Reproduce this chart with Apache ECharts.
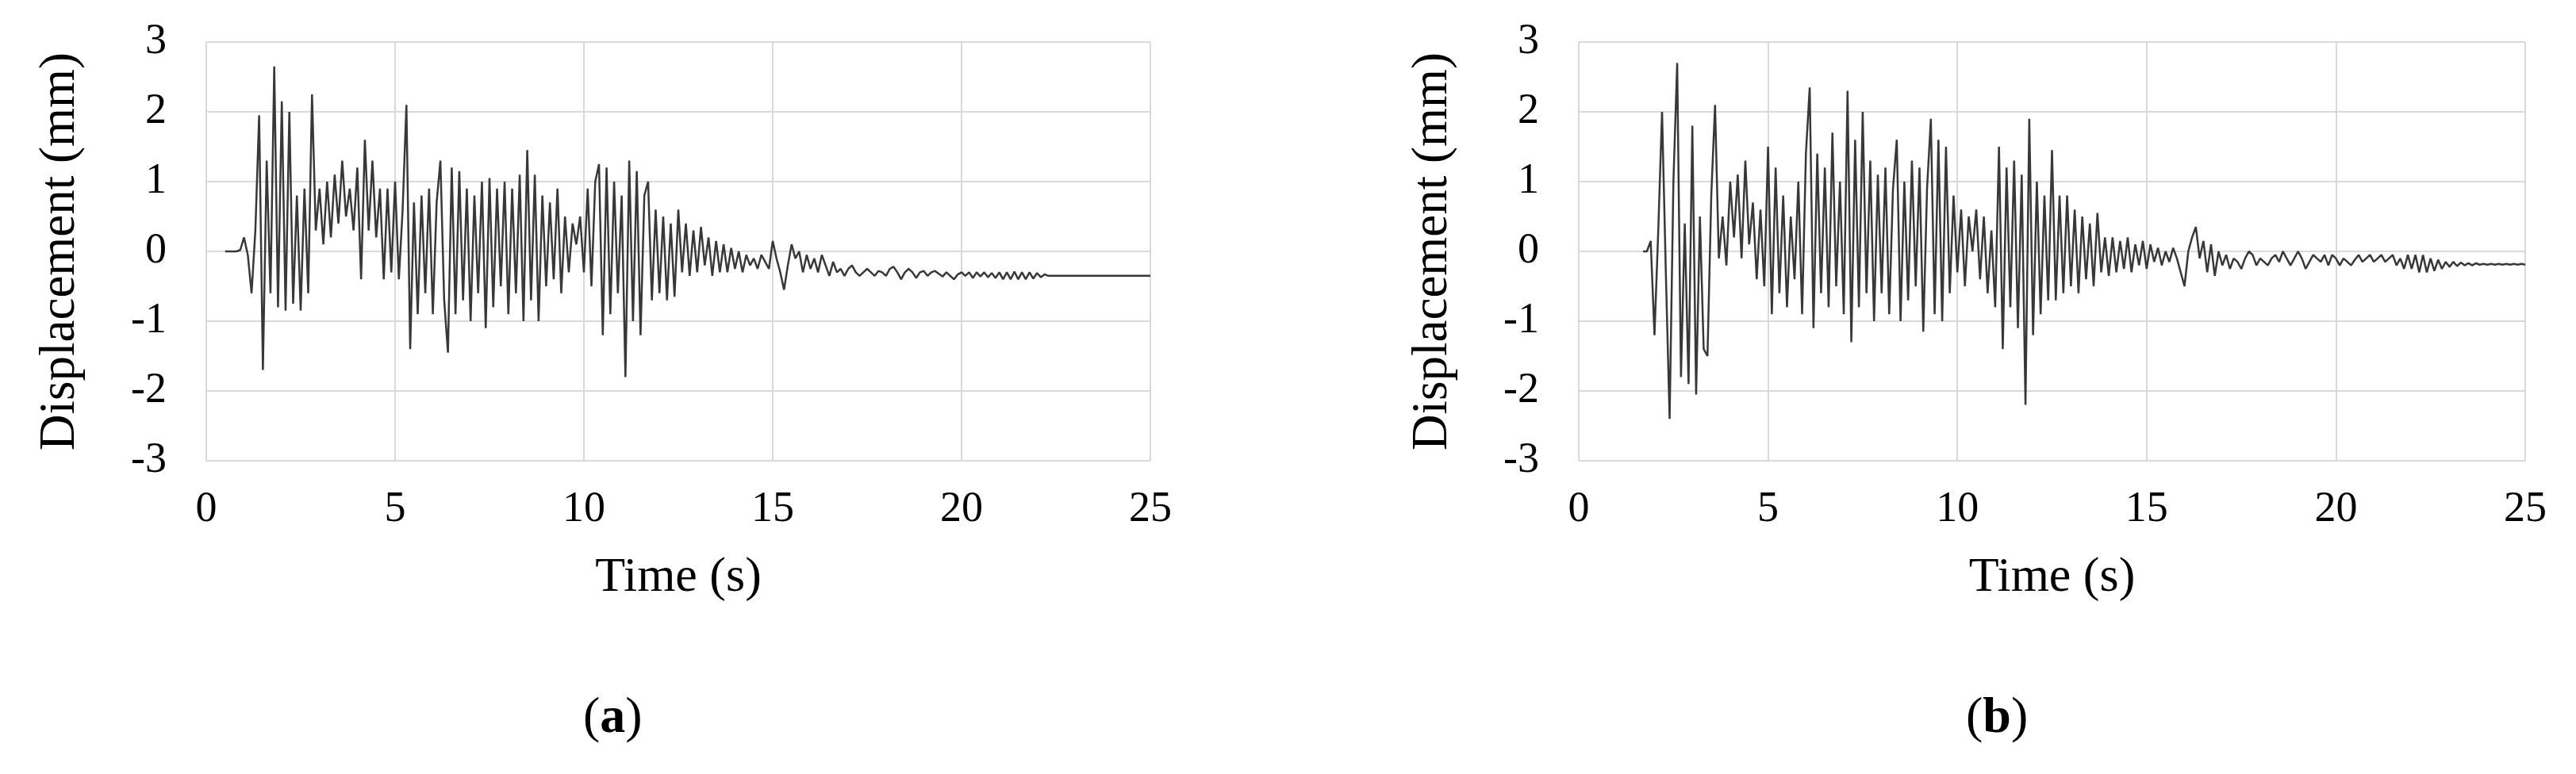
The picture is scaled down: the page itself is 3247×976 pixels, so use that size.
<!DOCTYPE html>
<html>
<head>
<meta charset="utf-8">
<script src="https://cdn.jsdelivr.net/npm/echarts@6/dist/echarts.min.js"></script>
<style>
html,body{margin:0;padding:0;background:#fff;}
#chart{width:3247px;height:976px;}
</style>
</head>
<body>
<div id="chart"></div>
<script>
// ---- data ----
var xTicks = [0, 5, 10, 15, 20, 25];
var yTicks = [-3, -2, -1, 0, 1, 2, 3];
var xTitle = 'Time (s)';
var yTitle = 'Displacement (mm)';
var captions = ['a', 'b'];
var sampleStep = 0.1; // s

// (a) displacement history, samples every 0.1 s starting at 0.5 s
var startA = 0.5;
var dispA = [
  0, 0, 0, 0, 0.02,
  0.2, -0.05, -0.6, 0.3, 1.95, -1.7, 1.3, -0.6, 2.65, -0.8,
  2.15, -0.85, 2.0, -0.75, 0.8, -0.85, 0.9, -0.6, 2.25, 0.3,
  0.9, 0.1, 1.0, 0.2, 1.1, 0.4, 1.3, 0.5, 0.9, 0.3,
  1.2, -0.4, 1.6, 0.3, 1.3, 0.2, 0.9, -0.4, 0.9, -0.3,
  1.0, -0.4, 0.6, 2.1, -1.4, 0.7, -0.9, 0.8, -0.6, 0.9,
  -0.9, 0.7, 1.3, -0.7, -1.45, 1.2, -0.9, 1.15, -0.7, 0.9,
  -1.0, 0.8, -0.6, 1.0, -1.1, 1.05, -0.8, 0.9, -0.5, 1.0,
  -0.9, 0.9, -0.6, 1.1, -1.0, 1.45, -0.7, 1.1, -1.0, 0.8,
  -0.5, 0.7, -0.4, 0.9, -0.6, 0.5, -0.3, 0.4, 0.1, 0.5,
  -0.3, 0.9, -0.5, 1.0, 1.25, -1.2, 1.2, -0.9, 1.0, -0.6,
  0.8, -1.8, 1.3, -1.0, 1.15, -1.2, 0.8, 1.0, -0.7, 0.6,
  -0.6, 0.5, -0.7, 0.4, -0.65, 0.6, -0.3, 0.4, -0.35, 0.3,
  -0.3, 0.35, -0.2, 0.2, -0.35, 0.15, -0.3, 0.1, -0.3, 0.05,
  -0.25, 0.0, -0.3, -0.05, -0.2, -0.1, -0.25, -0.05, -0.15, -0.25,
  0.15, -0.1, -0.3, -0.55, -0.2, 0.1, -0.1, 0.0, -0.3, -0.05,
  -0.25, -0.1, -0.3, -0.05, -0.2, -0.35, -0.15, -0.3, -0.25, -0.35,
  -0.25, -0.2, -0.3, -0.35, -0.3, -0.25, -0.3, -0.35, -0.28, -0.3,
  -0.35, -0.25, -0.22, -0.3, -0.4, -0.3, -0.25, -0.3, -0.38, -0.3,
  -0.28, -0.35, -0.3, -0.28, -0.32, -0.36, -0.3, -0.35, -0.4, -0.33,
  -0.3, -0.35, -0.3, -0.38, -0.3, -0.36, -0.3, -0.37, -0.31, -0.38,
  -0.3, -0.4, -0.3, -0.4, -0.29, -0.4, -0.3, -0.4, -0.3, -0.39,
  -0.31, -0.37, -0.33, -0.35, -0.35, -0.35, -0.35, -0.35, -0.35, -0.35,
  -0.35, -0.35, -0.35, -0.35, -0.35, -0.35, -0.35, -0.35, -0.35, -0.35,
  -0.35, -0.35, -0.35, -0.35, -0.35, -0.35, -0.35, -0.35, -0.35, -0.35,
  -0.35
];

// (b) displacement history, samples every 0.1 s starting at 1.7 s
var startB = 1.7;
var dispB = [
  0, 0.0, 0.15,
  -1.2, 0.3, 2.0, -0.3, -2.4, 1.0, 2.7, -1.8, 0.4, -1.9,
  1.8, -2.05, 0.5, -1.4, -1.5, 0.8, 2.1, -0.1, 0.5, -0.2,
  1.0, 0.2, 1.1, -0.1, 1.3, 0.1, 0.7, -0.4, 0.6, -0.5,
  1.5, -0.9, 1.2, -0.6, 0.8, -0.8, 0.5, -0.4, 1.0, -0.9,
  1.4, 2.35, -1.1, 1.4, -0.6, 1.2, -0.8, 1.7, -0.5, 1.0,
  -0.9, 2.3, -1.3, 1.6, -0.8, 2.0, -0.6, 1.3, -1.0, 1.1,
  -0.6, 1.2, -0.9, 0.9, 1.6, -1.0, 1.0, -0.7, 1.3, -0.5,
  1.2, -1.15, 0.9, 1.9, -0.9, 1.6, -1.0, 1.5, -0.6, 0.8,
  -0.3, 0.6, -0.5, 0.5, 0.0, 0.6, -0.4, 0.5, -0.6, 0.3,
  -0.8, 1.5, -1.4, 1.2, -0.8, 1.3, -1.1, 1.1, -2.2, 1.9,
  -1.2, 1.0, -0.9, 0.8, -0.7, 1.45, -0.7, 0.8, -0.6, 0.8,
  -0.5, 0.6, -0.6, 0.5, -0.4, 0.4, -0.5, 0.55, -0.3, 0.2,
  -0.35, 0.2, -0.3, 0.15, -0.25, 0.2, -0.3, 0.1, -0.2, 0.15,
  -0.25, 0.1, -0.15, 0.05, -0.2, 0.0, -0.15, 0.05, -0.1, -0.3,
  -0.5, 0.0, 0.2, 0.35, -0.1, 0.15, -0.3, 0.1, -0.35, 0.0,
  -0.2, -0.05, -0.25, -0.1, -0.15, -0.25, -0.1, 0.0, -0.05, -0.2,
  -0.1, -0.15, -0.2, -0.1, -0.05, -0.15, 0.0, -0.1, -0.2, -0.1,
  0.0, -0.1, -0.25, -0.15, -0.05, -0.1, -0.15, -0.05, -0.2, -0.05,
  -0.1, -0.2, -0.1, -0.15, -0.2, -0.12, -0.05, -0.15, -0.1, -0.05,
  -0.15, -0.1, -0.05, -0.15, -0.1, -0.05, -0.2, -0.1, -0.25, -0.05,
  -0.25, -0.05, -0.3, -0.05, -0.3, -0.1, -0.28, -0.12, -0.25, -0.15,
  -0.22, -0.15, -0.21, -0.16, -0.2, -0.17, -0.2, -0.17, -0.19, -0.18,
  -0.19, -0.18, -0.19, -0.18, -0.19, -0.18, -0.19, -0.18, -0.19, -0.18,
  -0.19
];

// ---- build ----
function toPairs(start, vals) {
  var out = [];
  for (var i = 0; i < vals.length; i++) {
    out.push([+(start + i * sampleStep).toFixed(2), vals[i]]);
  }
  return out;
}

var FONT = '"Liberation Serif", "Times New Roman", serif';
var gridColor = '#d9d9d9';
var lineColor = '#383838';

function xAxis(gi) {
  return {
    type: 'value', gridIndex: gi,
    min: xTicks[0], max: xTicks[xTicks.length - 1], interval: xTicks[1] - xTicks[0],
    name: xTitle, nameLocation: 'middle', nameGap: 117,
    nameTextStyle: { fontFamily: FONT, fontSize: 62, color: '#000' },
    axisLine: { show: false }, axisTick: { show: false },
    axisLabel: { fontFamily: FONT, fontSize: 54, color: '#000', margin: 35 },
    splitLine: { show: true, lineStyle: { color: gridColor, width: 2 } }
  };
}
function yAxis(gi) {
  return {
    type: 'value', gridIndex: gi,
    min: yTicks[0], max: yTicks[yTicks.length - 1], interval: yTicks[1] - yTicks[0],
    name: yTitle, nameLocation: 'middle', nameGap: 152, nameRotate: 90,
    nameTextStyle: { fontFamily: FONT, fontSize: 63, color: '#000' },
    axisLine: { show: false }, axisTick: { show: false },
    axisLabel: { fontFamily: FONT, fontSize: 54, color: '#000', margin: 50 },
    splitLine: { show: true, lineStyle: { color: gridColor, width: 2 } }
  };
}
function series(gi, data) {
  return {
    type: 'line', xAxisIndex: gi, yAxisIndex: gi, data: data,
    showSymbol: false, symbol: 'none', animation: false,
    lineStyle: { color: lineColor, width: 2.5 }
  };
}

var chart = echarts.init(document.getElementById('chart'), null, { renderer: 'canvas' });
chart.setOption({
  backgroundColor: '#fff',
  animation: false,
  grid: [
    { left: 260, top: 53, width: 1190, height: 528 },
    { left: 1990, top: 53, width: 1193, height: 528 }
  ],
  xAxis: [xAxis(0), xAxis(1)],
  yAxis: [yAxis(0), yAxis(1)],
  series: [series(0, toPairs(startA, dispA)), series(1, toPairs(startB, dispB))],
  graphic: [
    { type: 'text', left: 735, top: 874, style: { text: '(' + '{b|' + captions[0] + '}' + ')', rich: { b: { fontWeight: 'bold', fontFamily: FONT, fontSize: 64, fill: '#000' } }, font: '64px ' + FONT, fill: '#000' } },
    { type: 'text', left: 2478, top: 874, style: { text: '(' + '{b|' + captions[1] + '}' + ')', rich: { b: { fontWeight: 'bold', fontFamily: FONT, fontSize: 64, fill: '#000' } }, font: '64px ' + FONT, fill: '#000' } }
  ]
});
</script>
</body>
</html>
